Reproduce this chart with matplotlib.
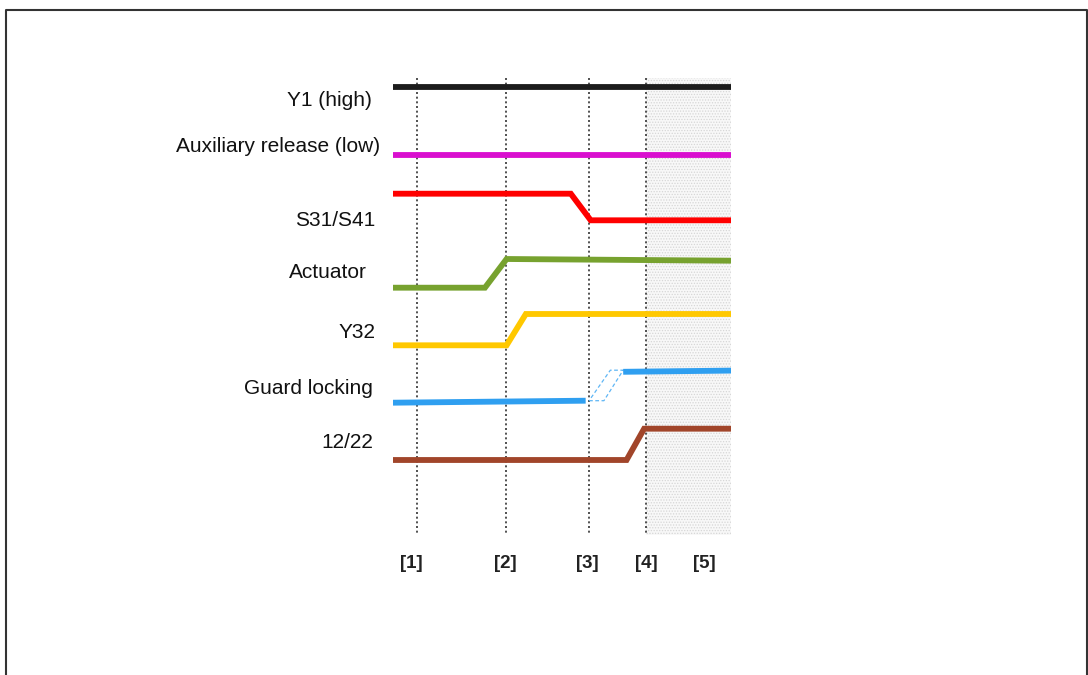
import numpy as np
import matplotlib
matplotlib.use("Agg")
import matplotlib.pyplot as plt
from matplotlib.lines import Line2D

plt.rcParams['font.family'] = ['Liberation Sans', 'DejaVu Sans']

# time axis (arbitrary units, 0..100) and vertical levels (diagram units, top = 0)
marker_t = [7.0, 33.3, 58.0, 74.9]
marker_lbl = ['[1]', '[2]', '[3]', '[4]', '[5]']
marker_lbl_t = [5.5, 33.3, 57.5, 74.9, 92.0]
shade_t = [74.9, 100]

names = ['Y1 (high)', 'Auxiliary release (low)', 'S31/S41', 'Actuator',
         'Y32', 'Guard locking', '12/22']
name_y = [100, 147, 220, 273, 333, 388, 442]
name_right = [-6.3, -3.8, -5.3, -7.7, -5.3, -5.9, -5.9]

colors = ['#1c1c1c', '#d90fcf', '#ff0000', '#77a22f', '#ffc800', '#2f9ff0', '#a1452a']

sig_t = [
    [0, 100],
    [0, 100],
    [0, 52.6, 58.5, 100],
    [0, 27.2, 33.6, 100],
    [0, 33.6, 39.3, 100],
    [0, 57.0],
    [0, 69.1, 74.3, 100],
]
sig_y = [
    [86.7, 86.7],
    [155.3, 155.3],
    [193.7, 193.7, 220.3, 220.3],
    [287.7, 287.7, 259.0, 260.7],
    [345.3, 345.3, 314.0, 314.0],
    [402.7, 400.7],
    [460.0, 460.0, 428.7, 428.7],
]

# guard locking: solid high part and dashed transition band
guard_hi_t = [68.1, 100]
guard_hi_y = [371.8, 370.6]
band_t = [58.0, 62.4, 68.1, 64.3, 58.0]
band_y = [400.7, 400.7, 370.2, 370.2, 400.7]

fig = plt.figure(figsize=(10.88, 6.75), dpi=100)
ax = fig.add_axes([393 / 1088, 0, 338 / 1088, 1])
ax.set_xlim(0, 100)
ax.set_ylim(675, 0)
ax.axis('off')

# shaded end zone
plt.rcParams['hatch.linewidth'] = 0.6
ax.fill_between(shade_t, 78, 535, facecolor='#f8f8f8', edgecolor='#d6d6d6',
                hatch='......', linewidth=0, zorder=0)

for t in marker_t:
    ax.plot([t, t], [78, 535], color='#333333', lw=1.2, ls=(0, (1.2, 1.6)), zorder=1)

for t, y, c in zip(sig_t, sig_y, colors):
    ax.plot(t, y, color=c, lw=4.2, solid_capstyle='butt', solid_joinstyle='miter', zorder=3)

ax.plot(guard_hi_t, guard_hi_y, color=colors[5], lw=4.2, solid_capstyle='butt', zorder=3)
ax.plot(band_t, band_y, color='#5fb6f5', lw=0.9, ls=(0, (3, 2)), zorder=2)

for n, y, r in zip(names, name_y, name_right):
    ax.text(r, y, n, ha='right', va='center', fontsize=15, color='#111111', clip_on=False)

for l, t in zip(marker_lbl, marker_lbl_t):
    ax.text(t, 563, l, ha='center', va='center', fontsize=13.5, fontweight='bold',
            color='#222222', clip_on=False)

# outer frame (left, top, right)
fw, fh = 1088, 675
fig.add_artist(Line2D([6 / fw, 6 / fw, 1087 / fw, 1087 / fw],
                      [0, 1 - 10 / fh, 1 - 10 / fh, 0],
                      color='#333333', lw=1.5, transform=fig.transFigure))

fig.savefig('out.png', dpi=100)
